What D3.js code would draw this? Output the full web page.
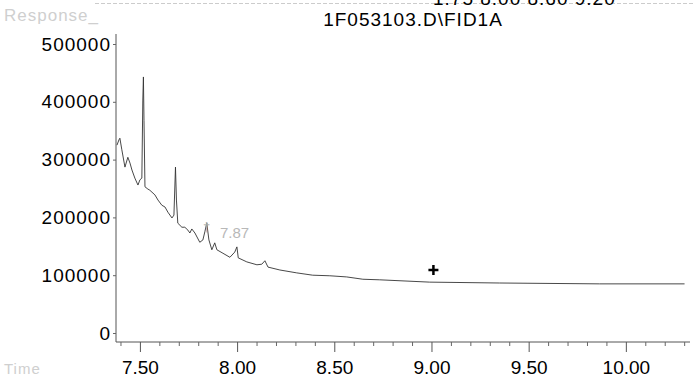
<!DOCTYPE html>
<html>
<head>
<meta charset="utf-8">
<script src="https://cdn.jsdelivr.net/npm/d3@7"></script>
<style>
  body { margin: 0; background: #fff; }
  text { font-family: "Liberation Sans", Arial, sans-serif; }
  .trace { fill: none; stroke: #333; stroke-width: 0.9; }
</style>
</head>
<body>
<div id="chart"></div>
<script>
// retention time (min) and detector response
var times = [7.382, 7.392, 7.397, 7.407, 7.423, 7.438, 7.449, 7.459, 7.474, 7.490,
             7.500, 7.510, 7.515, 7.518, 7.521, 7.526, 7.541, 7.551, 7.577, 7.593,
             7.613, 7.629, 7.644, 7.665, 7.675, 7.683, 7.688, 7.695, 7.716, 7.731,
             7.747, 7.757, 7.767, 7.783, 7.808, 7.824, 7.834, 7.844, 7.855, 7.870,
             7.885, 7.896, 7.927, 7.963, 7.988, 7.999, 8.006, 8.050, 8.102, 8.127,
             8.143, 8.159, 8.220, 8.307, 8.389, 8.477, 8.564, 8.647, 8.734, 8.991,
             9.351, 9.865, 10.302];
var response = [325000, 334000, 337000, 317000, 287000, 304000, 294000, 282000, 268000, 256000,
                265000, 268000, 403000, 443000, 368000, 253000, 249000, 247000, 239000, 230000,
                221000, 218000, 209000, 199000, 204000, 287000, 230000, 190000, 183000, 183000,
                178000, 173000, 180000, 173000, 157000, 161000, 175000, 190000, 161000, 144000,
                156000, 144000, 138000, 131000, 140000, 149000, 130000, 123000, 118000, 119000,
                125000, 114000, 109000, 104000, 100000, 99000, 97000, 93000, 92000, 88000,
                86500, 85000, 85000];

var yTicks = [0, 100000, 200000, 300000, 400000, 500000];
var xMajor = [7.5, 8.0, 8.5, 9.0, 9.5, 10.0];
var xMinor = [7.4, 7.6, 7.7, 7.8, 7.9, 8.1, 8.2, 8.3, 8.4, 8.6, 8.7, 8.8, 8.9,
              9.1, 9.2, 9.3, 9.4, 9.6, 9.7, 9.8, 9.9, 10.1, 10.2, 10.3];

var peakLabel = { t: 7.84, v: 190000, text: "7.87" };
var cursor = { t: 9.01, v: 109000 };

var title = "1F053103.D\\FID1A";
var headerCut = "1.75 8.00 8.60 9.20";

document.addEventListener('DOMContentLoaded', function() {
  drawChart();
});

function drawChart() {
  var width = 695, height = 385;

  var svg = d3.select("#chart").append("svg")
      .attr("width", width)
      .attr("height", height);

  var x = d3.scaleLinear().domain([7.377, 10.33]).range([116, 690]);
  var y = d3.scaleLinear().domain([0, 500000]).range([333, 44]);
  var axisY = 342;

  // faint scan line and the header row, cut off by the top edge as in the scan
  svg.append("line")
    .attr("x1", 95).attr("x2", 695).attr("y1", 3.5).attr("y2", 3.5)
    .attr("stroke", "#ccc").attr("stroke-dasharray", "4,2");
  svg.append("text")
    .attr("x", 433).attr("y", 5)
    .style("font-size", "19px")
    .style("letter-spacing", "1px")
    .text(headerCut);

  // title
  svg.append("text")
    .attr("x", 413).attr("y", 26)
    .style("text-anchor", "middle")
    .style("font-size", "19px")
    .style("letter-spacing", "1px")
    .text(title);

  // faint axis captions
  svg.append("text")
    .attr("x", 4).attr("y", 21)
    .style("font-size", "17px")
    .style("letter-spacing", "1px")
    .style("fill", "#cfcfcf")
    .text("Response_");
  svg.append("text")
    .attr("x", 4).attr("y", 374)
    .style("font-size", "15px")
    .style("letter-spacing", "1px")
    .style("fill", "#cfcfcf")
    .text("Time");

  // y axis
  svg.append("line")
    .attr("x1", 116).attr("x2", 116).attr("y1", 34).attr("y2", axisY)
    .attr("stroke", "#555");
  var yAxis = d3.axisLeft(y).tickValues(yTicks).tickSize(3).tickPadding(2)
    .tickFormat(d3.format("d"));
  var gy = svg.append("g").attr("transform", "translate(116,0)").call(yAxis);
  gy.select(".domain").remove();
  gy.selectAll(".tick line").attr("stroke", "#666");
  gy.selectAll(".tick text")
    .style("font-size", "19px")
    .style("letter-spacing", "1px")
    .attr("fill", "#000");

  // x axis: minor ticks then labelled major ticks
  svg.append("line")
    .attr("x1", 116).attr("x2", 690).attr("y1", axisY).attr("y2", axisY)
    .attr("stroke", "#555");
  var gxMinor = svg.append("g").attr("transform", "translate(0," + axisY + ")")
    .call(d3.axisBottom(x).tickValues(xMinor).tickSize(4).tickFormat(""));
  gxMinor.select(".domain").remove();
  gxMinor.selectAll(".tick line").attr("stroke", "#666");

  var gx = svg.append("g").attr("transform", "translate(0," + axisY + ")")
    .call(d3.axisBottom(x).tickValues(xMajor).tickSize(10).tickPadding(9)
      .tickFormat(d3.format(".2f")));
  gx.select(".domain").remove();
  gx.selectAll(".tick line").attr("stroke", "#555");
  gx.selectAll(".tick text")
    .style("font-size", "19px")
    .attr("fill", "#000");

  // the signal trace
  var line = d3.line()
    .x(function(d, i) { return x(times[i]); })
    .y(function(d) { return y(d); });
  svg.append("path")
    .datum(response)
    .attr("class", "trace")
    .attr("d", line);

  // retention time label next to the 7.87 peak
  svg.append("text")
    .attr("x", x(peakLabel.t) + 14).attr("y", y(peakLabel.v) + 15)
    .style("font-size", "15px")
    .style("fill", "#b8b8b8")
    .text(peakLabel.text);
  svg.append("text")
    .attr("x", x(peakLabel.t) - 3).attr("y", y(peakLabel.v) + 8)
    .style("font-size", "13px")
    .style("fill", "#aaa")
    .text("\u2020");

  // cursor cross
  var cx = x(cursor.t), cy = y(cursor.v);
  svg.append("path")
    .attr("d", "M" + (cx - 5) + "," + cy + "H" + (cx + 5) + "M" + cx + "," + (cy - 5) + "V" + (cy + 5))
    .attr("stroke", "#000")
    .attr("stroke-width", 2.5);
}
</script>
</body>
</html>
